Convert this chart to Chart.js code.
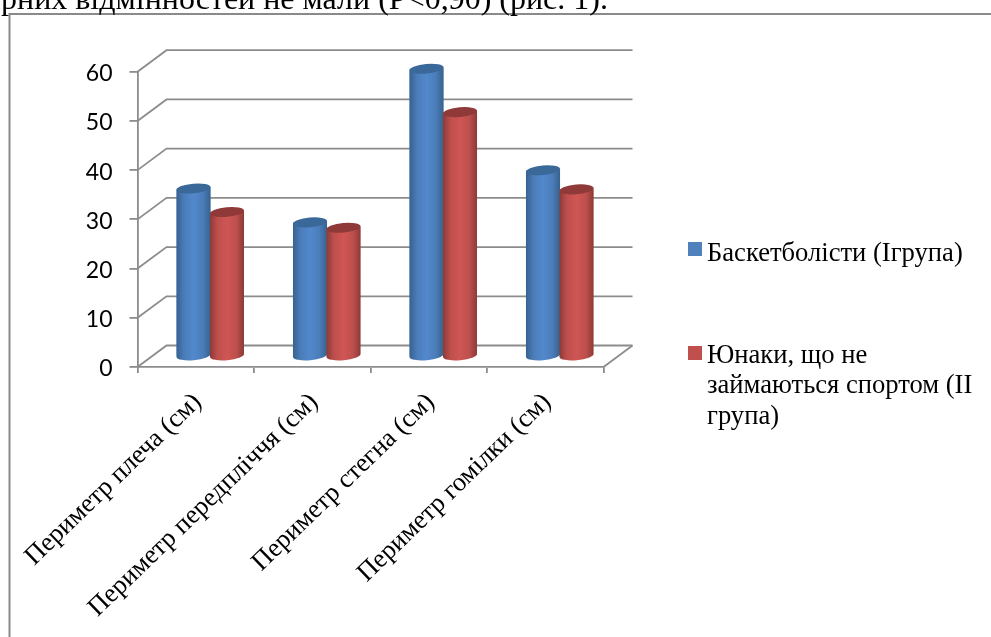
<!DOCTYPE html>
<html><head><meta charset="utf-8">
<style>html,body{margin:0;padding:0;background:#fff}canvas{display:block}</style>
<script src="https://cdn.jsdelivr.net/npm/chart.js@4"></script>
</head><body><canvas id="c" width="991" height="637"></canvas>
<script>
const categories = ['Периметр плеча (см)','Периметр передпліччя (см)','Периметр стегна (см)','Периметр гомілки (см)'];
const seriesOneName = 'Баскетболісти (Ігрупа)';
const seriesTwoName = 'Юнаки, що не займаються спортом (ІІ група)';
const seriesTwoLines = ['Юнаки, що не','займаються спортом (ІІ','група)'];
const seriesOne = [34.1, 27.2, 58.4, 37.8];
const seriesTwo = [29.3, 26.1, 49.6, 33.9];
const topLine = 'рних відмінностей не мали (Р<0,90) (рис. 1).';
const GREY = '#8c8c8c';
const DX = 29, DY = -21.5, TILT = -0.09, RY = 4.8;
const SERIF = '"Liberation Serif", serif';

function cylinder(ctx, el, dark, mid, light, cap){
  const cx = el.x + DX/2, top = el.y + DY/2, base = el.base + DY/2, rx = el.width/2 + 0.3;
  const g = ctx.createLinearGradient(cx-rx,0,cx+rx,0);
  g.addColorStop(0,dark); g.addColorStop(0.22,mid); g.addColorStop(0.5,light); g.addColorStop(0.78,mid); g.addColorStop(1,dark);
  ctx.fillStyle = g;
  const rise = Math.sin(TILT)*rx;
  ctx.beginPath();
  ctx.moveTo(cx-rx, top-rise);
  ctx.lineTo(cx-rx, base-rise);
  ctx.ellipse(cx, base, rx, RY, TILT, Math.PI, 0, true);
  ctx.lineTo(cx+rx, top+rise);
  ctx.closePath();
  ctx.fill();
  ctx.fillStyle = cap;
  ctx.beginPath();
  ctx.ellipse(cx, top, rx, RY, TILT, 0, Math.PI*2);
  ctx.fill();
}

const scene = {
  id:'scene',
  beforeDraw(chart){
    const {ctx, chartArea:a} = chart;
    ctx.save();
    ctx.fillStyle='#fff'; ctx.fillRect(0,0,991,637);
    ctx.strokeStyle='#8a8a8a'; ctx.lineWidth=2;
    ctx.beginPath(); ctx.moveTo(9.5,637); ctx.lineTo(9.5,14); ctx.lineTo(991,14); ctx.stroke();
    ctx.fillStyle='#000'; ctx.font='32px '+SERIF; ctx.textBaseline='alphabetic'; ctx.textAlign='left';
    ctx.fillText(topLine,1,9);
    ctx.restore();
  },
  beforeDatasetsDraw(chart){
    const {ctx, chartArea:a, scales:{y}} = chart;
    ctx.save();
    ctx.strokeStyle=GREY; ctx.lineWidth=1.8;
    y.ticks.forEach(t=>{
      const py=y.getPixelForValue(t.value);
      ctx.beginPath(); ctx.moveTo(a.left,py); ctx.lineTo(a.left+DX,py+DY); ctx.lineTo(a.right+DX,py+DY); ctx.stroke();
    });
    const py0=y.getPixelForValue(0);
    ctx.beginPath(); ctx.moveTo(a.right,py0); ctx.lineTo(a.right+DX,py0+DY); ctx.stroke();
    ctx.restore();
    ctx.save();
    ctx.translate(DX/2,DY/2);
  },
  afterDatasetsDraw(chart){
    const {ctx} = chart;
    ctx.restore();
    ctx.save();
    chart.getDatasetMeta(0).data.forEach(el=>cylinder(ctx,el,'#37628f','#4a7cb8','#5289cc','#3a6898'));
    chart.getDatasetMeta(1).data.forEach(el=>cylinder(ctx,el,'#8c3a38','#bd4f4c','#cf5654','#8f3a38'));
    ctx.restore();
  },
  afterDraw(chart){
    const {ctx}=chart;
    ctx.save();
    ctx.font='26.6px '+SERIF; ctx.textAlign='left'; ctx.textBaseline='alphabetic';
    ctx.fillStyle='#4f81bd'; ctx.fillRect(688,242,14,14);
    ctx.fillStyle='#c0504d'; ctx.fillRect(688,346,14,14);
    ctx.fillStyle='#000';
    ctx.fillText(seriesOneName,707,261);
    seriesTwoLines.forEach((s,i)=>ctx.fillText(s,707,362.5+i*30.5));
    ctx.restore();
  }
};

new Chart(document.getElementById('c'),{
  type:'bar',
  data:{labels:categories,datasets:[
    {label:seriesOneName,data:seriesOne,backgroundColor:'#4f81bd',clip:false},
    {label:seriesTwoName,data:seriesTwo,backgroundColor:'#c0504d',clip:false}
  ]},
  options:{
    responsive:false,animation:false,
    layout:{padding:{top:71.7,right:387.5,bottom:0,left:0}},
    plugins:{legend:{display:false},title:{display:false},tooltip:{enabled:false}},
    datasets:{bar:{barPercentage:1,categoryPercentage:0.575}},
    scales:{
      x:{
        grid:{drawOnChartArea:false,drawTicks:true,tickLength:6,color:GREY,lineWidth:1.8},
        border:{display:true,color:GREY,width:1.8},
        ticks:{autoSkip:false,minRotation:44,maxRotation:44,color:'#000',font:{family:'Liberation Serif',size:26.4},padding:14,labelOffset:2},
        afterFit(s){s.height=270;s.paddingLeft=0;s.paddingRight=0;}
      },
      y:{
        min:0,max:60,
        grid:{drawOnChartArea:false,drawTicks:true,tickLength:8,color:GREY,lineWidth:1.8},
        border:{display:true,color:GREY,width:1.8},
        ticks:{stepSize:10,color:'#000',font:{family:'Lato',size:23},padding:17,labelOffset:2},
        afterFit(s){s.width=137.5;s.paddingTop=0;s.paddingBottom=0;}
      }
    }
  },
  plugins:[scene]
});
</script></body></html>
